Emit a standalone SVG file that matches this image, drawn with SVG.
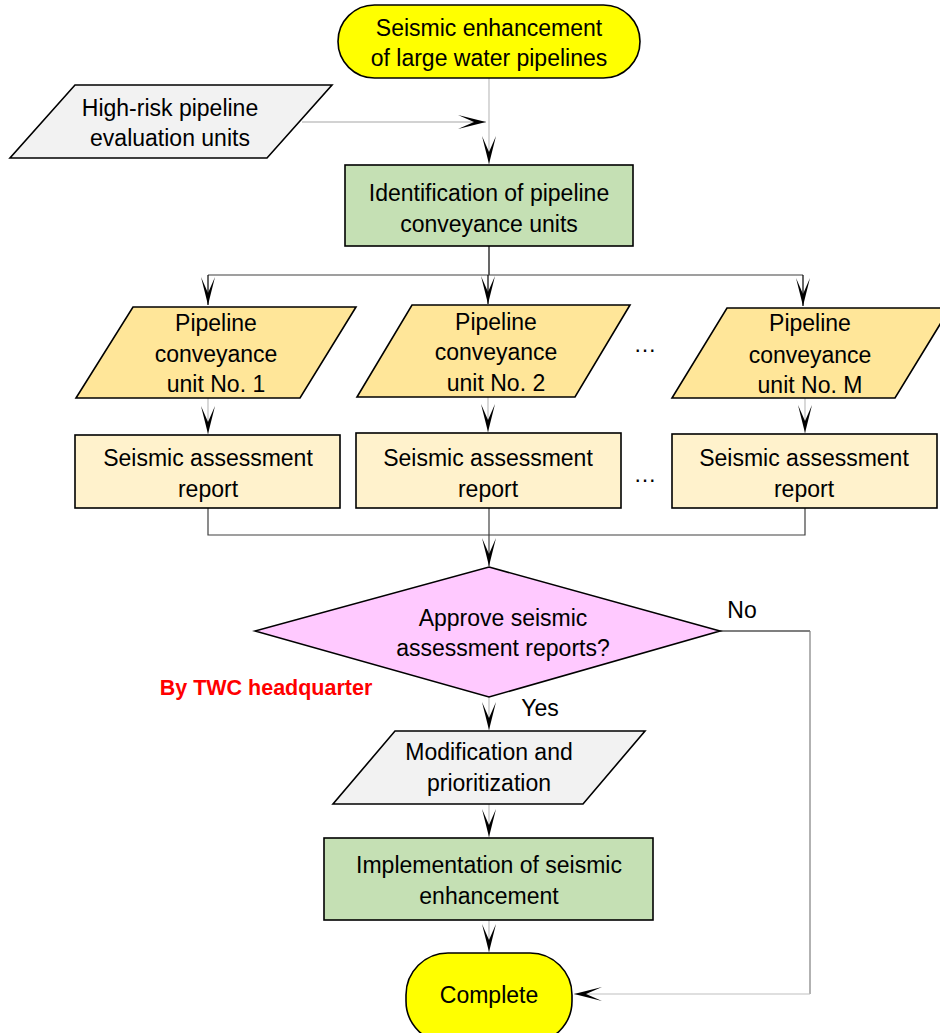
<svg xmlns="http://www.w3.org/2000/svg" width="940" height="1033" viewBox="0 0 940 1033">
<style>
  text { font-family: "Liberation Sans", Arial, sans-serif; font-size: 23px; fill: #000; text-anchor: middle; }
  .shape { stroke: #000; stroke-width: 1.6; }
  .term { fill: #ffff00; }
  .io { fill: #f2f2f2; }
  .green { fill: #c5e0b4; }
  .unit { fill: #ffe699; }
  .rep { fill: #fff2cc; }
  .dec { fill: #ffc9ff; }
  .red { fill: #ff0000; font-weight: bold; font-size: 21.5px; }
  .c { fill: none; stroke-width: 1.2; }
</style>
<defs>
  <marker id="arr" viewBox="-29 -8 30 16" refX="0" refY="0" markerWidth="30" markerHeight="16" markerUnits="userSpaceOnUse" orient="auto">
    <path d="M0,0 L-28,-7 L-12,0 L-28,7 Z" fill="#000"/>
  </marker>
</defs>
<rect width="940" height="1033" fill="#fff"/>

<g id="connectors">
  <path class="c" stroke="#bfbfbf" d="M489,78 V164" marker-end="url(#arr)"/>
  <path class="c" stroke="#a6a6a6" d="M302,122 H486" marker-end="url(#arr)"/>
  <path class="c" stroke="#000" d="M489,246 V275"/>
  <path class="c" stroke="#404040" d="M208,275 H803"/>
  <path class="c" stroke="#000" d="M208,275 V305" marker-end="url(#arr)"/>
  <path class="c" stroke="#000" d="M488,275 V304" marker-end="url(#arr)"/>
  <path class="c" stroke="#000" d="M803,275 V306" marker-end="url(#arr)"/>
  <path class="c" stroke="#bfbfbf" d="M208,398 V434" marker-end="url(#arr)"/>
  <path class="c" stroke="#bfbfbf" d="M488,397 V432" marker-end="url(#arr)"/>
  <path class="c" stroke="#bfbfbf" d="M805,398 V433" marker-end="url(#arr)"/>
  <path class="c" stroke="#404040" d="M208,508 V535 H805 V508"/>
  <path class="c" stroke="#404040" d="M489,508 V566" marker-end="url(#arr)"/>
  <path class="c" stroke="#bfbfbf" d="M489,697 V730" marker-end="url(#arr)"/>
  <path class="c" stroke="#bfbfbf" d="M489,804 V837" marker-end="url(#arr)"/>
  <path class="c" stroke="#bfbfbf" d="M489,920 V952" marker-end="url(#arr)"/>
  <path class="c" stroke="#000" d="M720,631 H810"/>
  <path class="c" stroke="#7f7f7f" d="M810,631 V994"/>
  <path class="c" stroke="#bfbfbf" d="M810,994 H574" marker-end="url(#arr)"/>
</g>

<g id="start">
  <rect class="shape term" x="338" y="5" width="302" height="73" rx="36.5" ry="36.5"/>
  <text x="489" y="36">Seismic enhancement</text>
  <text x="489" y="66">of large water pipelines</text>
</g>

<g id="highrisk">
  <polygon class="shape io" points="75,85 332,85 267,158 10,158"/>
  <text x="170" y="116">High-risk pipeline</text>
  <text x="170" y="146">evaluation units</text>
</g>

<g id="identification">
  <rect class="shape green" x="345" y="165" width="288" height="81"/>
  <text x="489" y="201">Identification of pipeline</text>
  <text x="489" y="232">conveyance units</text>
</g>

<g id="unit1">
  <polygon class="shape unit" points="133,307 356,307 300,398 76,398"/>
  <text x="216" y="331">Pipeline</text>
  <text x="216" y="362">conveyance</text>
  <text x="216" y="392">unit No. 1</text>
</g>

<g id="unit2">
  <polygon class="shape unit" points="412,305 630,305 575,397 357,397"/>
  <text x="496" y="330">Pipeline</text>
  <text x="496" y="360">conveyance</text>
  <text x="496" y="391">unit No. 2</text>
</g>

<g id="unitM">
  <polygon class="shape unit" points="727,308 950,308 895,398 672,398"/>
  <text x="810" y="331">Pipeline</text>
  <text x="810" y="363">conveyance</text>
  <text x="810" y="393">unit No. M</text>
</g>

<g id="ellipsis1"><text x="645" y="352">…</text></g>
<g id="ellipsis2"><text x="645" y="482">…</text></g>

<g id="report1">
  <rect class="shape rep" x="75" y="435" width="265" height="73"/>
  <text x="208" y="466">Seismic assessment</text>
  <text x="208" y="497">report</text>
</g>

<g id="report2">
  <rect class="shape rep" x="356" y="433" width="265" height="75"/>
  <text x="488" y="466">Seismic assessment</text>
  <text x="488" y="497">report</text>
</g>

<g id="reportM">
  <rect class="shape rep" x="672" y="434" width="265" height="74"/>
  <text x="804" y="466">Seismic assessment</text>
  <text x="804" y="497">report</text>
</g>

<g id="decision">
  <polygon class="shape dec" points="489,567 720,631 489,697 255,631"/>
  <text x="503" y="626">Approve seismic</text>
  <text x="503" y="656">assessment reports?</text>
</g>

<g id="labels">
  <text x="742" y="618">No</text>
  <text x="540" y="716">Yes</text>
  <text class="red" x="266" y="695">By TWC headquarter</text>
</g>

<g id="modification">
  <polygon class="shape io" points="395,731 645,731 583,804 333,804"/>
  <text x="489" y="760">Modification and</text>
  <text x="489" y="791">prioritization</text>
</g>

<g id="implementation">
  <rect class="shape green" x="324" y="838" width="329" height="82"/>
  <text x="489" y="873">Implementation of seismic</text>
  <text x="489" y="904">enhancement</text>
</g>

<g id="complete">
  <rect class="shape term" x="406" y="953" width="166" height="90" rx="42" ry="42"/>
  <text x="489" y="1003">Complete</text>
</g>
</svg>
